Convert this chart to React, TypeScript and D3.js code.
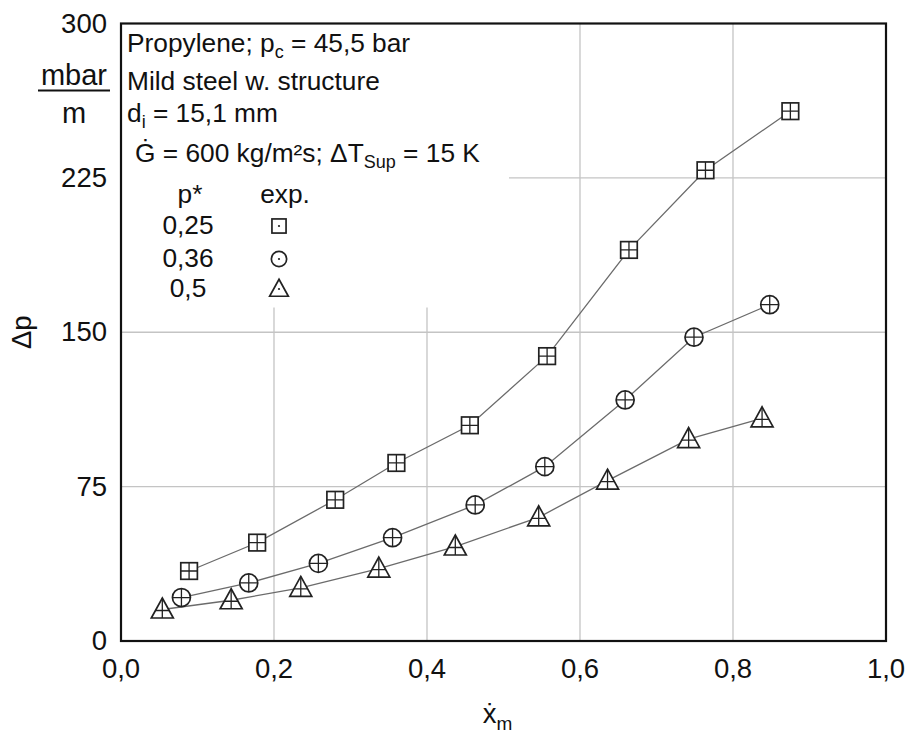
import React from 'react';
import * as d3 from 'd3';

// Axis ticks
const xTicks = [0, 0.2, 0.4, 0.6, 0.8, 1.0];
const xTickLabels = ['0,0', '0,2', '0,4', '0,6', '0,8', '1,0'];
const yTicks = [0, 75, 150, 225, 300];
const yTickLabels = ['0', '75', '150', '225', '300'];

// Reduced pressure of each series
const pStar = ['0,25', '0,36', '0,5'];

// p* = 0,25 (squares)
const sqX = [0.089, 0.178, 0.28, 0.36, 0.456, 0.557, 0.664, 0.764, 0.875];
const sqY = [34.0, 47.8, 68.6, 86.5, 104.8, 138.4, 190.0, 228.7, 257.4];
// p* = 0,36 (circles)
const ciX = [0.079, 0.167, 0.258, 0.355, 0.463, 0.554, 0.659, 0.749, 0.848];
const ciY = [21.1, 28.2, 37.7, 50.2, 66.1, 84.7, 117.1, 147.6, 163.4];
// p* = 0,5 (triangles)
const trX = [0.054, 0.144, 0.235, 0.337, 0.437, 0.546, 0.636, 0.742, 0.838];
const trY = [15.3, 19.8, 25.8, 35.2, 45.9, 60.1, 77.9, 98.1, 108.2];

const FONT = '"Liberation Sans", Arial, Helvetica, sans-serif';
const GRID = '#c4c4c4';
const LINE = '#6b6b6b';
const MARK = '#222';

type Shape = 'square' | 'circle' | 'triangle';

function Marker({ shape, cx, cy, legend }: { shape: Shape; cx: number; cy: number; legend?: boolean }) {
  const k = legend ? 0.85 : 1;
  const common = { fill: '#fff', stroke: MARK, strokeWidth: 1.7 };
  let body: React.ReactNode = null;
  let cross: React.ReactNode = null;
  if (shape === 'square') {
    const h = 8.3 * k;
    body = <rect x={-h} y={-h} width={2 * h} height={2 * h} {...common} />;
    cross = <path d={`M${-h},0H${h}M0,${-h}V${h}`} />;
  } else if (shape === 'circle') {
    const r = 9 * k;
    body = <circle r={r} {...common} />;
    cross = <path d={`M${-r},0H${r}M0,${-r}V${r}`} />;
  } else {
    const w = 11 * k, top = -11.5 * k, base = 8.5 * k;
    body = <path d={`M0,${top}L${w},${base}L${-w},${base}Z`} {...common} />;
    const yc = 1 * k;
    const hw = (w * (yc - top)) / (base - top);
    cross = <path d={`M${-hw},${yc}H${hw}M0,${top}V${base}`} />;
  }
  return (
    <g transform={`translate(${cx},${cy})`}>
      {body}
      {legend ? (
        <circle r={1.1} fill={MARK} />
      ) : (
        <g stroke={MARK} strokeWidth={1.3} fill="none">{cross}</g>
      )}
    </g>
  );
}

export default function App() {
  const width = 912;
  const height = 738;
  const left = 121, right = 886, top = 23.5, bottom = 641;

  const x = d3.scaleLinear().domain([0, 1]).range([left, right]);
  const y = d3.scaleLinear().domain([0, 300]).range([bottom, top]);

  const series: { shape: Shape; xs: number[]; ys: number[] }[] = [
    { shape: 'square', xs: sqX, ys: sqY },
    { shape: 'circle', xs: ciX, ys: ciY },
    { shape: 'triangle', xs: trX, ys: trY },
  ];

  const line = d3
    .line<[number, number]>()
    .x((d) => x(d[0]))
    .y((d) => y(d[1]));

  const fs = 26.3;
  const subFs = 18;
  const tickFs = 27.5;
  const legendShapes: Shape[] = ['square', 'circle', 'triangle'];
  const legendRowY = [234, 267, 297];

  return (
    <svg
      width={width}
      height={height}
      style={{ position: 'absolute', left: 0, top: 0, background: '#fff' }}
      fontFamily={FONT}
    >
      <rect width={width} height={height} fill="#fff" />

      {/* grid */}
      <g stroke={GRID} strokeWidth={1.3}>
        {xTicks.slice(1, -1).map((t) => (
          <line key={'gx' + t} x1={x(t)} x2={x(t)} y1={top} y2={bottom} />
        ))}
        {yTicks.slice(1, -1).map((t) => (
          <line key={'gy' + t} x1={left} x2={right} y1={y(t)} y2={y(t)} />
        ))}
      </g>

      {/* white panel behind the description */}
      <rect x={left} y={top} width={388} height={284} fill="#fff" />

      {/* series lines */}
      {series.map((s, i) => (
        <path
          key={'l' + i}
          d={line(s.xs.map((v, j) => [v, s.ys[j]] as [number, number])) || ''}
          fill="none"
          stroke={LINE}
          strokeWidth={1.3}
        />
      ))}

      {/* markers */}
      {series.map((s, i) =>
        s.xs.map((v, j) => <Marker key={`m${i}-${j}`} shape={s.shape} cx={x(v)} cy={y(s.ys[j])} />)
      )}

      {/* frame */}
      <rect x={left} y={top} width={right - left} height={bottom - top} fill="none" stroke="#111" strokeWidth={2.2} />

      {/* x tick labels */}
      <g fontSize={tickFs} fill="#111" textAnchor="middle">
        {xTicks.map((t, i) => (
          <text key={'xt' + t} x={x(t)} y={678}>
            {xTickLabels[i]}
          </text>
        ))}
      </g>

      {/* y tick labels */}
      <g fontSize={tickFs} fill="#111" textAnchor="end">
        {yTicks.map((t, i) => (
          <text key={'yt' + t} x={107} y={y(t) + 9}>
            {yTickLabels[i]}
          </text>
        ))}
      </g>

      {/* y unit */}
      <g fontSize={29} fill="#111" textAnchor="middle">
        <text x={74} y={85}>mbar</text>
        <line x1={38} x2={110} y1={90.5} y2={90.5} stroke="#111" strokeWidth={1.8} />
        <text x={74} y={123}>m</text>
      </g>

      {/* y axis title */}
      <text
        transform={`translate(31,${y(150)}) rotate(-90)`}
        textAnchor="middle"
        fontSize={tickFs}
        fill="#111"
      >
        Δp
      </text>

      {/* x axis title */}
      <text x={(left + right) / 2 - 6} y={723} textAnchor="middle" fontSize={tickFs} fill="#111">
        ẋ
        <tspan fontSize={19} dy={7}>m</tspan>
      </text>

      {/* description */}
      <g fontSize={fs} fill="#111">
        <text x={127} y={52}>
          Propylene; p<tspan fontSize={subFs} dy={6}>c</tspan>
          <tspan dy={-6}> = 45,5 bar</tspan>
        </text>
        <text x={127} y={90}>Mild steel w. structure</text>
        <text x={127} y={122}>
          d<tspan fontSize={subFs} dy={6}>i</tspan>
          <tspan dy={-6}> = 15,1 mm</tspan>
        </text>
        <text x={135} y={162}>
          Ġ = 600 kg/m²s; ΔT<tspan fontSize={subFs} dy={6}>Sup</tspan>
          <tspan dy={-6}> = 15 K</tspan>
        </text>
        <text x={190} y={203} textAnchor="middle">p*</text>
        <text x={285} y={203} textAnchor="middle">exp.</text>
        {pStar.map((p, i) => (
          <text key={'ps' + p} x={188} y={legendRowY[i]} textAnchor="middle">
            {p}
          </text>
        ))}
      </g>
      {legendShapes.map((s, i) => (
        <Marker key={'lg' + s} shape={s} cx={279} cy={legendRowY[i] - 8} legend />
      ))}
    </svg>
  );
}
